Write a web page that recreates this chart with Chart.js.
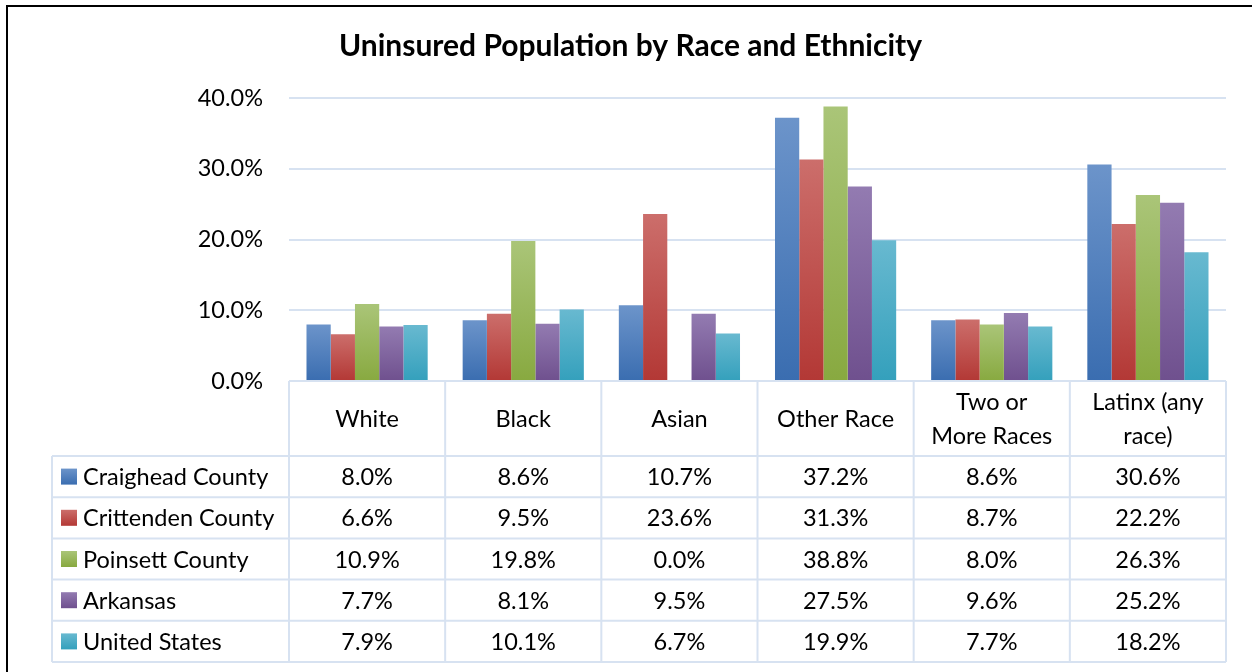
<!DOCTYPE html>
<html><head><meta charset="utf-8">
<script src="https://cdn.jsdelivr.net/npm/chart.js@4/dist/chart.umd.min.js"></script>
<style>html,body{margin:0;padding:0;background:#fff;overflow:hidden}#c{display:block}</style>
</head><body><canvas id="c" width="1252" height="672"></canvas>
<script>
const categories = ['White', 'Black', 'Asian', 'Other Race', ['Two or', 'More Races'], ['Latinx (any', 'race)']];
const seriesNames = ['Craighead County', 'Crittenden County', 'Poinsett County', 'Arkansas', 'United States'];
const craighead = [8.0, 8.6, 10.7, 37.2, 8.6, 30.6];
const crittenden = [6.6, 9.5, 23.6, 31.3, 8.7, 22.2];
const poinsett = [10.9, 19.8, 0.0, 38.8, 8.0, 26.3];
const arkansas = [7.7, 8.1, 9.5, 27.5, 9.6, 25.2];
const unitedStates = [7.9, 10.1, 6.7, 19.9, 7.7, 18.2];
const yTickValues = [0, 10, 20, 30, 40];
const titleText = 'Uninsured Population by Race and Ethnicity';

const FONT = 'Lato';
const FS = 23.5;
const gradStops = [
  ['#6c94ca', '#3a6db0'],
  ['#cc6e6b', '#b33835'],
  ['#aac578', '#88a940'],
  ['#937bb1', '#6f508e'],
  ['#68b9d0', '#34a0bc']
];
const allSeries = [craighead, crittenden, poinsett, arkansas, unitedStates];

function barGradient(ctx) {
  const chart = ctx.chart;
  const i = ctx.datasetIndex;
  const ys = chart.scales && chart.scales.y;
  if (!ys || ctx.raw === undefined) return gradStops[i][1];
  const top = ys.getPixelForValue(ctx.raw);
  const bot = ys.getPixelForValue(0);
  if (!isFinite(top) || !isFinite(bot) || Math.abs(bot - top) < 1) return gradStops[i][1];
  const g = chart.ctx.createLinearGradient(0, top, 0, bot);
  g.addColorStop(0, gradStops[i][0]);
  g.addColorStop(1, gradStops[i][1]);
  return g;
}

const GRID = '#d7e2f1';

const framePlugin = {
  id: 'frame',
  beforeDraw(chart) {
    const c = chart.ctx;
    c.save();
    c.fillStyle = '#fff';
    c.fillRect(0, 0, chart.width, chart.height);
    c.fillStyle = '#000';
    c.fillRect(6, 5, 2, chart.height);
    c.fillRect(6, 5, chart.width, 2);
    c.restore();
  }
};

const tablePlugin = {
  id: 'dataTable',
  afterDraw(chart) {
    const c = chart.ctx;
    const xs = chart.scales.x;
    const area = chart.chartArea;
    const n = categories.length;
    const centers = categories.map((_, i) => xs.getPixelForTick(i));
    const bounds = [area.left];
    for (let i = 0; i < n - 1; i++) bounds.push((centers[i] + centers[i + 1]) / 2);
    bounds.push(area.right);
    const headTop = area.bottom;
    const headBot = headTop + 75;
    const rowH = 41.2;
    const legLeft = 52;
    const tableBot = headBot + rowH * seriesNames.length;
    c.save();
    c.strokeStyle = GRID;
    c.lineWidth = 2;
    c.beginPath();
    bounds.forEach(b => { c.moveTo(b, headTop); c.lineTo(b, tableBot); });
    c.moveTo(legLeft, headBot); c.lineTo(legLeft, tableBot);
    c.moveTo(area.left, headTop); c.lineTo(area.right, headTop);
    for (let r = 0; r <= seriesNames.length; r++) {
      const y = headBot + r * rowH;
      c.moveTo(legLeft, y); c.lineTo(area.right, y);
    }
    c.stroke();

    c.fillStyle = '#000';
    c.font = FS + 'px ' + FONT;
    c.textAlign = 'center';
    c.textBaseline = 'middle';
    const headMid = (headTop + headBot) / 2;
    categories.forEach((cat, i) => {
      const lines = Array.isArray(cat) ? cat : [cat];
      const lh = 34;
      lines.forEach((ln, k) => {
        c.fillText(ln, centers[i], headMid + 1 + (k - (lines.length - 1) / 2) * lh);
      });
    });
    seriesNames.forEach((name, r) => {
      const yMid = headBot + r * rowH + rowH / 2;
      const g = c.createLinearGradient(0, yMid - 8, 0, yMid + 8);
      g.addColorStop(0, gradStops[r][0]);
      g.addColorStop(1, gradStops[r][1]);
      c.fillStyle = g;
      c.fillRect(61, yMid - 8, 16, 16);
      c.fillStyle = '#000';
      c.textAlign = 'left';
      c.fillText(name, 83, yMid + 1);
      c.textAlign = 'center';
      allSeries[r].forEach((v, i) => {
        c.fillText(v.toFixed(1) + '%', centers[i], yMid + 1);
      });
    });
    c.restore();
  }
};

new Chart(document.getElementById('c'), {
  type: 'bar',
  data: {
    labels: categories,
    datasets: seriesNames.map((name, i) => ({
      label: name,
      data: allSeries[i],
      backgroundColor: barGradient,
      borderWidth: 0,
      categoryPercentage: 0.776,
      barPercentage: 1.0
    }))
  },
  options: {
    responsive: false,
    animation: false,
    devicePixelRatio: 1,
    layout: { padding: { left: 35, right: 26, top: 0, bottom: 291 } },
    plugins: {
      legend: { display: false },
      tooltip: { enabled: false },
      title: {
        display: true,
        text: titleText,
        color: '#000',
        font: { family: FONT, size: 30, weight: 'bold', lineHeight: 1.2 },
        padding: { top: 28, bottom: 34 }
      }
    },
    scales: {
      x: { display: false },
      y: {
        min: 0, max: 40,
        afterFit(scale) { scale.width = 254; },
        afterBuildTicks(scale) { scale.ticks = yTickValues.map(v => ({ value: v })); },
        border: { display: false },
        grid: { color: GRID, lineWidth: 2, drawTicks: false },
        ticks: {
          padding: 26,
          color: '#000',
          font: { family: FONT, size: FS },
          callback: v => v.toFixed(1) + '%'
        }
      }
    }
  },
  plugins: [framePlugin, tablePlugin]
});
</script>
</body></html>
